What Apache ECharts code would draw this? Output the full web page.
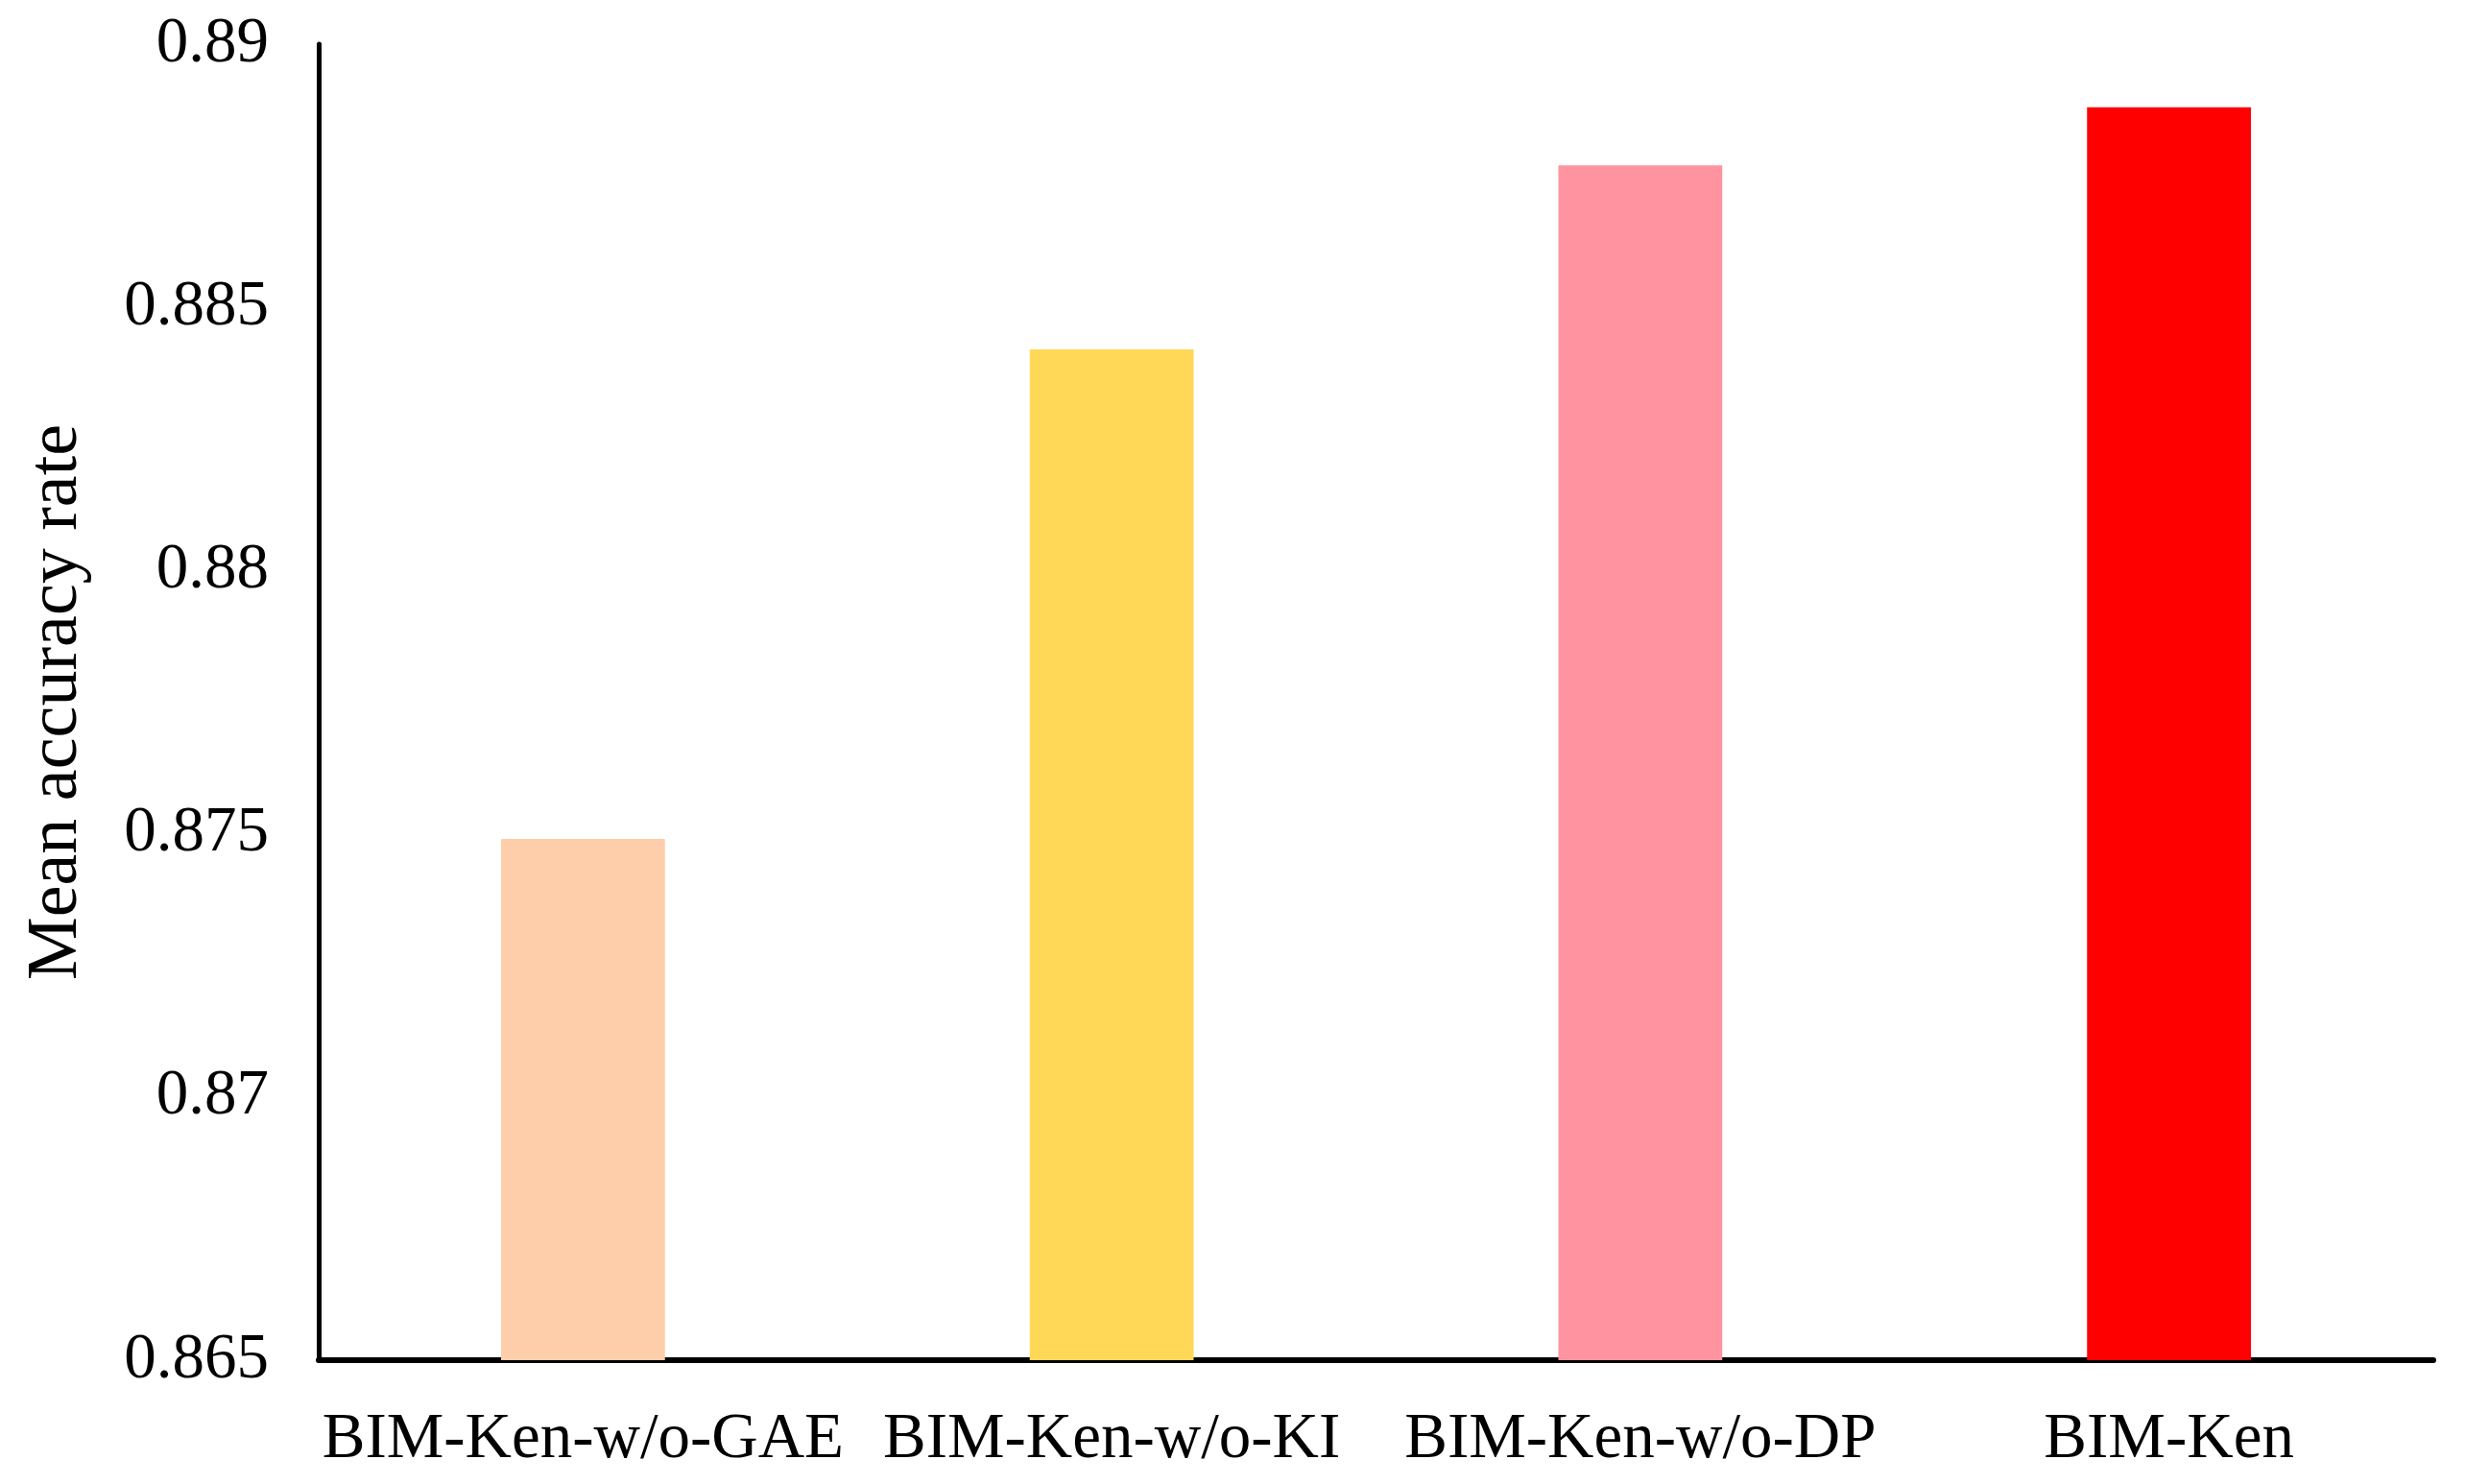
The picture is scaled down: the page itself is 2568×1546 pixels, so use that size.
<!DOCTYPE html>
<html>
<head>
<meta charset="utf-8">
<script src="https://cdn.jsdelivr.net/npm/echarts@6/dist/echarts.min.js"></script>
<style>
html,body{margin:0;padding:0;background:#fff;}
#chart{width:2568px;height:1546px;}
</style>
</head>
<body>
<div id="chart"></div>
<script>
const categories = ['BIM-Ken-w/o-GAE', 'BIM-Ken-w/o-KI', 'BIM-Ken-w/o-DP', 'BIM-Ken'];
const values = [0.8749, 0.8842, 0.8877, 0.8888];
const barColors = ['#FECEAA', '#FFD858', '#FF94A0', '#FF0000'];
const yTicks = { min: 0.865, max: 0.89, interval: 0.005 };
const yName = 'Mean accuracy rate';

const chart = echarts.init(document.getElementById('chart'));
const font = '"Liberation Serif", "Times New Roman", serif';
chart.setOption({
  backgroundColor: '#fff',
  animation: false,
  grid: { left: 332, right: 33, top: 46, bottom: 129, containLabel: false },
  xAxis: {
    type: 'category',
    data: categories,
    axisLine: { lineStyle: { color: '#000', width: 6 } },
    axisTick: { show: false },
    axisLabel: { color: '#000', fontFamily: font, fontSize: 67, margin: 50, interval: 0 }
  },
  yAxis: {
    type: 'value',
    min: yTicks.min,
    max: yTicks.max,
    interval: yTicks.interval,
    name: yName,
    nameLocation: 'middle',
    nameGap: 235,
    nameTextStyle: { color: '#000', fontFamily: font, fontSize: 74 },
    axisLine: { show: true, lineStyle: { color: '#000', width: 5 } },
    axisTick: { show: false },
    splitLine: { show: false },
    axisLabel: {
      color: '#000', fontFamily: font, fontSize: 67, margin: 52,
      formatter: v => String(parseFloat(v.toFixed(3)))
    }
  },
  series: [{
    type: 'bar',
    barWidth: '31%',
    data: values.map((v, i) => ({ value: v, itemStyle: { color: barColors[i] } }))
  }]
});
</script>
</body>
</html>
